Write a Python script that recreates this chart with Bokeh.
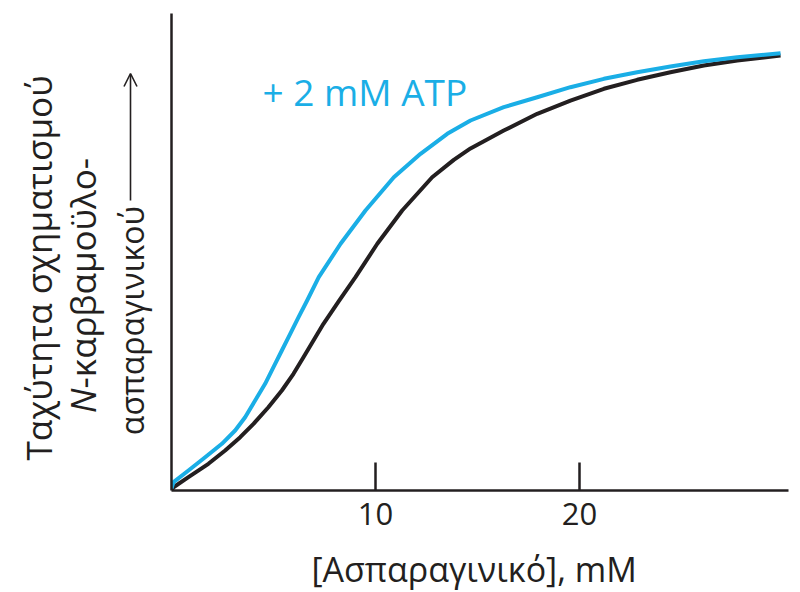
import math
from bokeh.plotting import figure
from bokeh.layouts import row, column
from bokeh.models import Label, Arrow, OpenHead, FixedTicker, Range1d
from bokeh.core.properties import value
from bokeh.embed import file_html
from bokeh.resources import INLINE

# ---- Data ----
asn_control = [0, 0.10, 0.83, 1.81, 2.63, 3.37, 4.02, 4.75, 5.41, 5.98, 6.47,
               6.96, 7.45, 8.22, 9.02, 10.09, 11.31, 12.78, 13.84, 14.66,
               16.29, 17.93, 19.56, 21.20, 22.83, 24.46, 26.10, 27.74, 29.86]
rate_control = [0, 0.69, 2.80, 5.62, 8.42, 11.22, 14.04, 17.53, 21.05, 24.56,
                28.06, 31.57, 35.09, 39.99, 44.90, 51.93, 58.93, 65.94, 69.6,
                72.0, 75.77, 79.29, 82.08, 84.55, 86.44, 88.04, 89.45, 90.51,
                91.56]

asn_atp = [0, 0.10, 0.83, 1.65, 2.47, 3.12, 3.61, 4.10, 4.59, 5.00, 5.41, 5.82,
           6.23, 6.65, 7.22, 8.29, 9.51, 10.90, 12.21, 13.52, 14.66, 16.29,
           17.93, 19.56, 21.20, 22.83, 24.46, 26.10, 27.74, 29.86]
rate_atp = [0.42, 1.75, 4.21, 7.01, 9.83, 12.63, 15.43, 18.94, 22.46, 25.95,
            29.47, 32.98, 36.48, 39.99, 44.90, 51.93, 58.93, 65.94, 70.87,
            75.08, 77.88, 80.68, 82.78, 84.89, 86.65, 88.04, 89.24, 90.36,
            91.20, 92.04]

x_ticks = [10, 20]
series_label = "+ 2 mM ATP"
x_title = "[Ασπαραγινικό], mM"
y_title_1 = "Ταχύτητα σχηματισμού"
y_title_2a = "N"
y_title_2b = "-καρβαμοϋλο-"
y_title_3 = "ασπαραγινικού"

BLACK = "#231f20"
BLUE = "#1aaee6"
FONT = "Open Sans"

# ---- geometry ----
W, H = 800, 592
LEFT_W = 166            # width of the y-title strip
MAIN_W = W - LEFT_W     # 634
MAIN_H = 547
BOT_H = H - MAIN_H      # 45
B_LEFT, B_RIGHT, B_TOP, B_BOTTOM = 5, 12, 13, 57
X0, X1 = 0, 30.25
Y0, Y1 = 0, 100.4
fw = MAIN_W - B_LEFT - B_RIGHT
fh = MAIN_H - B_TOP - B_BOTTOM

def dx(px):  # page pixel -> data x (main plot)
    return X0 + (px - LEFT_W - B_LEFT) / fw * (X1 - X0)

def dy(py):  # page pixel -> data y (main plot)
    return Y0 + (B_TOP + fh - py) / fh * (Y1 - Y0)

# ---- main plot ----
p = figure(width=MAIN_W, height=MAIN_H, x_range=Range1d(X0, X1),
           y_range=Range1d(Y0, Y1), output_backend="svg", toolbar_location=None,
           title=None,
           min_border_left=B_LEFT, min_border_right=B_RIGHT,
           min_border_top=B_TOP, min_border_bottom=B_BOTTOM)
p.outline_line_color = None
p.xgrid.visible = False
p.ygrid.visible = False

ax = p.xaxis[0]
ax.ticker = FixedTicker(ticks=x_ticks)
ax.axis_line_color = BLACK
ax.axis_line_width = 2.5
ax.major_tick_line_color = BLACK
ax.major_tick_line_width = 2.5
ax.major_tick_in = 28
ax.major_tick_out = 0
ax.minor_tick_line_color = None
ax.minor_tick_out = 0
ax.minor_tick_in = 0
ax.major_label_text_font = FONT
ax.major_label_text_font_size = "31px"
ax.major_label_text_color = BLACK
ax.major_label_standoff = 12

ay = p.yaxis[0]
ay.ticker = FixedTicker(ticks=[])
ay.axis_line_color = BLACK
ay.axis_line_width = 2.5
ay.major_tick_line_color = None
ay.minor_tick_line_color = None
ay.major_tick_out = 0
ay.minor_tick_out = 0
ay.major_label_standoff = 0
ay.major_label_text_font_size = "0px"

p.line(asn_control, rate_control, line_color=BLACK, line_width=4,
       line_join="round")
p.line(asn_atp, rate_atp, line_color=BLUE, line_width=4, line_join="round")

# "middle" anchor sits ~0.388 em above the alphabetic baseline
p.add_layout(Label(x=dx(262), y=dy(105 - 0.388 * 37), text=series_label,
                   text_font=FONT, text_font_size="37px", text_color=BLUE,
                   text_align="left", text_baseline="middle"))

# ---- y-title strip ----
yl = figure(width=LEFT_W, height=H, x_range=Range1d(0, LEFT_W),
            y_range=Range1d(0, H), output_backend="svg", toolbar_location=None,
            title=None, x_axis_type=None, y_axis_type=None, min_border=0)
yl.outline_line_color = None
yl.xgrid.visible = False
yl.ygrid.visible = False

ang = math.pi / 2
common = dict(text_font=value(FONT), text_color=BLACK, angle=ang,
              text_baseline="middle")
yl.text(x=[38], y=[H - 267.5], text=[y_title_1], text_align="center",
        text_font_size=value("35px"), **common)
yl.text(x=[82], y=[H - 388], text=[y_title_2a], text_align="right",
        text_font_style="italic", text_font_size=value("35px"), **common)
yl.text(x=[82], y=[H - 388], text=[y_title_2b], text_align="left",
        text_font_size=value("35px"), **common)
yl.text(x=[131], y=[H - 320], text=[y_title_3], text_align="center",
        text_font_size=value("32px"), **common)
yl.add_layout(Arrow(x_start=130, y_start=H - 200, x_end=130, y_end=H - 73,
                    line_color=BLACK, line_width=1.6,
                    end=OpenHead(size=13, line_color=BLACK, line_width=1.6)))

# ---- x-title strip ----
xb = figure(width=MAIN_W, height=BOT_H, x_range=Range1d(0, MAIN_W),
            y_range=Range1d(0, BOT_H), output_backend="svg",
            toolbar_location=None, title=None, x_axis_type=None,
            y_axis_type=None, min_border=0)
xb.outline_line_color = None
xb.xgrid.visible = False
xb.ygrid.visible = False
baseline_from_top = 582 - MAIN_H
xb.text(x=[477 - LEFT_W], y=[BOT_H - (baseline_from_top - 0.388 * 34)],
        text=[x_title], text_font=value(FONT), text_font_size=value("34px"),
        text_color=BLACK, text_align="center", text_baseline="middle")

layout = row(yl, column(p, xb, spacing=0), spacing=0)

open("out.html", "w").write(file_html(layout, INLINE))
